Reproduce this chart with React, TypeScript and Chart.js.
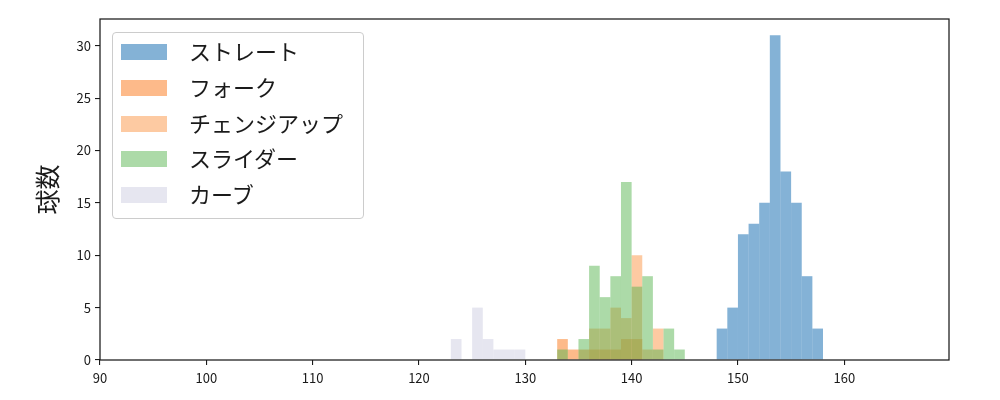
import { useEffect, useRef } from 'react';
import { Chart, registerables } from 'chart.js';

Chart.register(...registerables);

// histogram bins (bin start, width 1 km/h) and counts per pitch type
const pitchNames = ['ストレート', 'フォーク', 'チェンジアップ', 'スライダー', 'カーブ'];
const pitchColors = [
  'rgba(9, 101, 173, 0.5)',
  'rgba(251, 117, 21, 0.5)',
  'rgba(251, 149, 69, 0.5)',
  'rgba(89, 181, 81, 0.5)',
  'rgba(205, 205, 225, 0.5)',
];

const straightBins = [148, 149, 150, 151, 152, 153, 154, 155, 156, 157];
const straightCounts = [3, 5, 12, 13, 15, 31, 18, 15, 8, 3];

const forkBins = [133, 134, 135, 136, 137, 138, 139, 140];
const forkCounts = [2, 1, 1, 1, 1, 1, 2, 2];

const changeupBins = [136, 137, 138, 139, 140, 141, 142];
const changeupCounts = [3, 3, 5, 4, 10, 1, 3];

const sliderBins = [133, 134, 135, 136, 137, 138, 139, 140, 141, 142, 143, 144];
const sliderCounts = [1, 0, 2, 9, 6, 8, 17, 7, 8, 1, 3, 1];

const curveBins = [123, 124, 125, 126, 127, 128, 129];
const curveCounts = [2, 0, 5, 2, 1, 1, 1];

const xTicks = [90, 100, 110, 120, 130, 140, 150, 160];
const yTicks = [0, 5, 10, 15, 20, 25, 30];

const allBins = [straightBins, forkBins, changeupBins, sliderBins, curveBins];
const allCounts = [straightCounts, forkCounts, changeupCounts, sliderCounts, curveCounts];

const FONT = "'Noto Sans CJK JP', 'Noto Sans', sans-serif";

const framePlugin = {
  id: 'frame',
  afterDraw(chart: Chart) {
    const { ctx, chartArea: a } = chart;
    ctx.save();
    ctx.strokeStyle = '#1a1a1a';
    ctx.lineWidth = 1.25;
    ctx.strokeRect(a.left, a.top, a.right - a.left, a.bottom - a.top);
    ctx.restore();
  },
};

export default function App() {
  const canvasRef = useRef<HTMLCanvasElement>(null);
  const chartRef = useRef<Chart | null>(null);

  useEffect(() => {
    if (!canvasRef.current) return;
    if (chartRef.current) chartRef.current.destroy();

    const datasets = pitchNames.map((name, i) => ({
      label: name,
      data: allBins[i].map((b, j) => ({ x: b + 0.5, y: allCounts[i][j] })),
      backgroundColor: pitchColors[i],
      borderWidth: 0,
      barPercentage: 1,
      categoryPercentage: 1,
      inflateAmount: 0,
      grouped: false,
      order: pitchNames.length - i,
    }));

    chartRef.current = new Chart(canvasRef.current, {
      type: 'bar',
      data: { datasets },
      plugins: [framePlugin],
      options: {
        animation: false,
        responsive: false,
        layout: { padding: { top: 19, right: 51, left: 0, bottom: 0 } },
        plugins: {
          legend: { display: false },
          tooltip: { enabled: false },
        },
        scales: {
          x: {
            type: 'linear',
            min: 90,
            max: 169.85,
            offset: false,
            afterBuildTicks: (s: any) => {
              s.ticks = xTicks.map((v) => ({ value: v }));
            },
            afterFit: (s: any) => {
              s.height = 40;
            },
            border: { display: false },
            grid: {
              offset: false,
              drawOnChartArea: false,
              drawTicks: true,
              tickLength: 5,
              color: '#1a1a1a',
              lineWidth: 1.1,
            },
            ticks: {
              color: '#1a1a1a',
              padding: 5,
              maxRotation: 0,
              font: { family: FONT, size: 13 },
            },
          },
          y: {
            min: 0,
            max: 32.55,
            afterBuildTicks: (s: any) => {
              s.ticks = yTicks.map((v) => ({ value: v }));
            },
            afterFit: (s: any) => {
              s.width = 100;
            },
            border: { display: false },
            grid: {
              offset: false,
              drawOnChartArea: false,
              drawTicks: true,
              tickLength: 5,
              color: '#1a1a1a',
              lineWidth: 1.1,
            },
            ticks: {
              color: '#1a1a1a',
              padding: 4,
              font: { family: FONT, size: 13 },
            },
            title: {
              display: true,
              text: '球数',
              color: '#1a1a1a',
              font: { family: FONT, size: 25 },
              padding: { top: 32, bottom: 0 },
            },
          },
        },
      },
    });

    return () => {
      if (chartRef.current) {
        chartRef.current.destroy();
        chartRef.current = null;
      }
    };
  }, []);

  return (
    <div style={{ position: 'fixed', left: 0, top: 0, width: 1000, height: 400, background: '#fff' }}>
      <canvas ref={canvasRef} width={1000} height={400} />
      <div
        style={{
          position: 'absolute',
          left: 112,
          top: 32,
          width: 250,
          height: 185,
          border: '1px solid #cccccc',
          borderRadius: 4,
          background: 'rgba(255,255,255,0.8)',
          fontFamily: FONT,
        }}
      >
        {pitchNames.map((name, i) => (
          <div
            key={name}
            style={{
              position: 'absolute',
              left: 8,
              top: 11 + i * 35.8,
              height: 16,
              display: 'flex',
              alignItems: 'center',
              whiteSpace: 'nowrap',
            }}
          >
            <span style={{ display: 'inline-block', width: 46, height: 16, background: pitchColors[i] }} />
            <span
              style={{
                marginLeft: 22,
                fontSize: 22,
                lineHeight: '16px',
                color: '#1a1a1a',
                position: 'relative',
                top: -2,
              }}
            >
              {name}
            </span>
          </div>
        ))}
      </div>
    </div>
  );
}
